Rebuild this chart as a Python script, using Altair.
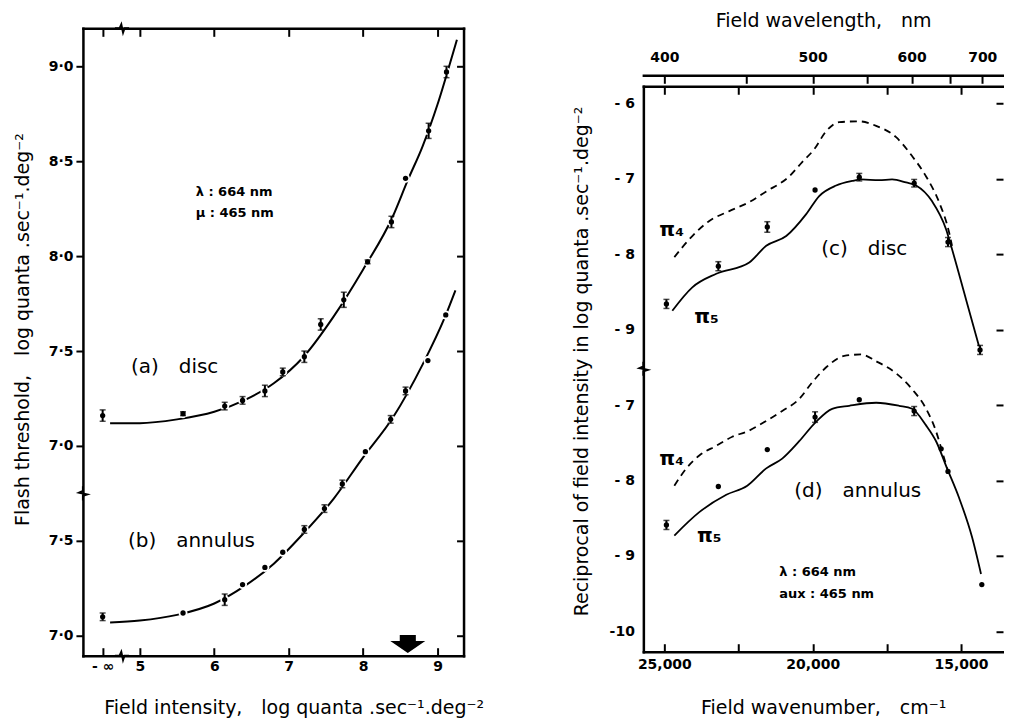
import altair as alt
import pandas as pd

FONT = "DejaVu Sans"

# ======================= LEFT PANEL (flash threshold vs field intensity) =======================
L_X_TICKS = [4.5, 5, 6, 7, 8, 9]
L_X_LABELS = ["- ∞", "5", "6", "7", "8", "9"]
L_Y_TICKS = [6.0, 6.5, 7.0, 7.5, 8.0, 8.5, 9.0]
L_Y_LABELS = ["7·0", "7·5", "7·0", "7·5", "8·0", "8·5", "9·0"]
L_ANNULUS_SHIFT = -1.0   # annulus curve drawn on the lower (broken) part of the axis

disc_x = [4.5, 5.58, 6.14, 6.38, 6.68, 6.92, 7.21, 7.43, 7.74, 8.06, 8.38, 8.57, 8.88, 9.12]
disc_y = [7.16, 7.17, 7.21, 7.24, 7.29, 7.39, 7.47, 7.64, 7.77, 7.97, 8.18, 8.41, 8.66, 8.97]
disc_err = [0.03, 0.01, 0.02, 0.02, 0.03, 0.02, 0.03, 0.03, 0.04, 0.01, 0.03, 0.0, 0.04, 0.03]

annulus_x = [4.5, 5.58, 6.14, 6.38, 6.68, 6.92, 7.21, 7.48, 7.72, 8.03, 8.37, 8.57, 8.87, 9.11]
annulus_y = [7.10, 7.12, 7.19, 7.27, 7.36, 7.44, 7.56, 7.67, 7.80, 7.97, 8.14, 8.29, 8.45, 8.69]
annulus_err = [0.02, 0.0, 0.03, 0.0, 0.0, 0.0, 0.02, 0.02, 0.02, 0.0, 0.02, 0.02, 0.0, 0.0]

disc_fit_x = [4.6, 5.0, 5.5, 6.0, 6.4, 6.8, 7.2, 7.6, 8.0, 8.4, 8.6, 8.8, 9.0, 9.2, 9.26]
disc_fit_y = [7.12, 7.12, 7.14, 7.18, 7.24, 7.33, 7.47, 7.68, 7.93, 8.21, 8.40, 8.58, 8.80, 9.06, 9.14]
annulus_fit_x = [4.6, 5.0, 5.5, 6.0, 6.4, 6.8, 7.2, 7.6, 8.0, 8.4, 8.8, 9.1, 9.24]
annulus_fit_y = [7.07, 7.08, 7.11, 7.17, 7.26, 7.38, 7.54, 7.72, 7.94, 8.15, 8.43, 8.68, 8.82]

left_note_text = ["λ : 664 nm", "μ : 465 nm"]
left_note_x = [5.75, 5.75]
left_note_y = [8.34, 8.226]
left_label_text = ["(a)\u2003disc", "(b)\u2003annulus"]
left_label_x = [4.88, 4.84]
left_label_y = [7.416, 6.50]

arrow_x = [8.6]
arrow_y = [5.958]

L_XDOM = [4.235, 9.349]
L_YDOM = [5.895, 9.2]
WL, HL = 381, 628

# ======================= RIGHT PANEL (spectral sensitivity) =======================
R_X_LABEL_TICKS = [25000, 20000, 15000]
R_X_TICKS = [25000, 22500, 20000, 17500, 15000]
WAVELENGTHS = [400, 450, 500, 550, 600, 650, 700]
R_Y_TICKS = [-6, -7, -8, -9, -10, -11, -12, -13]
R_Y_LABELS = ["- 6", "- 7", "- 8", "- 9", "- 7", "- 8", "- 9", "-10"]
R_ANNULUS_SHIFT = -3.0

c_pts_wn = [24930, 23180, 21530, 19920, 18430, 16580, 15440, 14360]
c_pts_v = [-8.66, -8.16, -7.64, -7.15, -6.98, -7.06, -7.84, -9.27]
c_pts_err = [0.06, 0.06, 0.07, 0.0, 0.05, 0.05, 0.06, 0.06]

d_pts_wn = [24930, 23180, 21530, 19920, 18430, 16580, 15670, 15440, 14300]
d_pts_v = [-8.59, -8.08, -7.59, -7.16, -6.93, -7.08, -7.58, -7.88, -9.38]
d_pts_err = [0.06, 0.0, 0.0, 0.07, 0.0, 0.06, 0.0, 0.0, 0.0]

c_pi4_wn = [24663, 24057, 23485, 22811, 22138, 21566, 20791, 20354, 19949, 19545, 19108,
            18434, 17862, 17189, 16650, 16178, 15741, 15404, 15303]
c_pi4_v = [-8.04, -7.76, -7.56, -7.43, -7.31, -7.17, -6.97, -6.78, -6.61, -6.37, -6.25,
           -6.24, -6.30, -6.45, -6.70, -6.97, -7.31, -7.71, -7.89]
c_pi5_wn = [24731, 24057, 23249, 22138, 21566, 20892, 20219, 19781, 19209, 18670, 18367,
            17761, 17323, 16852, 16515, 15976, 15505, 15337, 14832, 14394]
c_pi5_v = [-8.75, -8.44, -8.26, -8.11, -7.89, -7.76, -7.47, -7.23, -7.09, -7.03, -7.01,
           -7.02, -7.01, -7.05, -7.09, -7.30, -7.67, -7.89, -8.60, -9.22]

d_pi4_wn = [24663, 24260, 23822, 23249, 22710, 22205, 21566, 21027, 20455, 20017, 19545,
            18939, 18367, 17862, 17189, 16650, 16178, 15842, 15640, 15471]
d_pi4_v = [-8.07, -7.84, -7.67, -7.54, -7.42, -7.35, -7.21, -7.08, -6.92, -6.70, -6.50,
           -6.35, -6.33, -6.42, -6.58, -6.79, -7.05, -7.35, -7.61, -7.84]
d_pi5_wn = [24663, 23822, 22912, 22205, 21566, 21027, 20455, 19882, 19343, 18771, 17862,
            17088, 16650, 16178, 15842, 15471, 15067, 14630, 14327]
d_pi5_v = [-8.73, -8.42, -8.19, -8.07, -7.84, -7.71, -7.48, -7.22, -7.05, -7.01, -6.97,
           -7.01, -7.05, -7.27, -7.48, -7.84, -8.23, -8.75, -9.24]

right_pi_text = ["π₄", "π₅", "π₄", "π₅"]
right_pi_wn = [25168, 23990, 25168, 23900]
right_pi_v = [-7.68, -8.83, -10.71, -11.74]
right_label_text = ["(c)\u2003disc", "(d)\u2003annulus"]
right_label_wn = [19714, 20623]
right_label_v = [-7.93, -11.14]
right_note_text = ["λ : 664 nm", "aux : 465 nm"]
right_note_wn = [21128, 21128]
right_note_v = [-12.22, -12.51]

R_XDOM = [13586, 25707]
R_YDOM = [-13.27, -5.007]     # plot area reaches up to the wavelength-axis title
WR, HR = 360, 624
R_FRAME_H = 566               # frame height (bottom axis to top frame line)
R_WL_GAP = 11                 # wavelength axis sits this far above the frame

# axis-break positions (x, y in data units)
left_hbreak_x = [4.76, 4.76]
left_hbreak_y = [L_YDOM[1], L_YDOM[0]]
left_vbreak_x = [L_XDOM[0]]
left_vbreak_y = [6.75]
right_vbreak_x = [R_XDOM[1]]
right_vbreak_y = [-9.52]

H_BREAK = "M-1,0 L-0.35,0 L-0.1,-0.55 L0.15,0.6 L0.35,0 L1,0"
V_BREAK = "M0,-1 L0,-0.35 L-0.55,-0.1 L0.6,0.15 L0,0.35 L0,1"
ARROW = "M-0.46,-0.5 L0.46,-0.5 L0.46,-0.16 L1,-0.16 L0,0.53 L-1,-0.16 L-0.46,-0.16 Z"

TITLE_SIZE = 19


def lab_expr(values, labels, tol):
    parts = [f"abs(datum.value - ({v})) < {tol} ? '{t}' : " for v, t in zip(values, labels)]
    return "".join(parts) + "''"


# ---------------------------------------------------------------- left chart
xsL = alt.Scale(domain=L_XDOM, nice=False, zero=False)
ysL = alt.Scale(domain=L_YDOM, nice=False, zero=False)

lcurve = pd.concat([
    pd.DataFrame({"x": disc_fit_x, "y": disc_fit_y, "s": "disc"}),
    pd.DataFrame({"x": annulus_fit_x, "y": [v + L_ANNULUS_SHIFT for v in annulus_fit_y], "s": "annulus"}),
])
lpts = pd.concat([
    pd.DataFrame({"x": disc_x, "y": disc_y, "err": disc_err}),
    pd.DataFrame({"x": annulus_x, "y": [v + L_ANNULUS_SHIFT for v in annulus_y], "err": annulus_err}),
])
lpts["lo"] = lpts["y"] - lpts["err"]
lpts["hi"] = lpts["y"] + lpts["err"]
lbars = lpts[lpts["err"] > 0]
lcaps = pd.concat([lbars.assign(y=lbars["lo"]), lbars.assign(y=lbars["hi"])])


def lcarrier(xaxis, yaxis):
    return alt.Chart(lcurve).mark_point(opacity=0).encode(
        x=alt.X("x:Q", scale=xsL, axis=xaxis),
        y=alt.Y("y:Q", scale=ysL, axis=yaxis),
    )


AX_L_bottom = alt.Axis(orient="bottom", values=L_X_TICKS,
                       labelExpr=lab_expr(L_X_TICKS, L_X_LABELS, 0.01),
                       ticks=False, labelPadding=4,
                       title="Field intensity,\u2003log quanta .sec⁻¹.deg⁻²",
                       titlePadding=25, titleX=211)
AX_L_bottom_in = alt.Axis(orient="top", offset=-HL, values=L_X_TICKS, labels=False,
                          domain=False, tickSize=8, title=None)
AX_L_top = alt.Axis(orient="bottom", offset=-HL, values=L_X_TICKS, labels=False,
                    tickSize=8, title=None)
AX_L_left = alt.Axis(orient="left", values=L_Y_TICKS,
                     labelExpr=lab_expr(L_Y_TICKS, L_Y_LABELS, 0.01),
                     tickSize=7, labelPadding=3,
                     title="Flash threshold,\u2003log quanta .sec⁻¹.deg⁻²",
                     titlePadding=16, titleY=301)
AX_L_right = alt.Axis(orient="left", offset=-WL, values=L_Y_TICKS, labels=False,
                      tickSize=7, title=None)

l_lines = alt.Chart(lcurve).mark_line(color="black", strokeWidth=2, interpolate="monotone").encode(
    x=alt.X("x:Q", scale=xsL, axis=None), y=alt.Y("y:Q", scale=ysL, axis=None), detail="s:N")
l_halo = alt.Chart(lpts).mark_point(filled=True, color="white", opacity=1, size=80, shape="circle").encode(
    x=alt.X("x:Q", scale=xsL, axis=None), y=alt.Y("y:Q", scale=ysL, axis=None))
l_rules = alt.Chart(lbars).mark_rule(color="black", strokeWidth=2).encode(
    x=alt.X("x:Q", scale=xsL, axis=None), y=alt.Y("lo:Q", scale=ysL, axis=None), y2="hi:Q")
l_caps = alt.Chart(lcaps).mark_tick(color="black", orient="horizontal", size=6, thickness=1.5).encode(
    x=alt.X("x:Q", scale=xsL, axis=None), y=alt.Y("y:Q", scale=ysL, axis=None))
l_dots = alt.Chart(lpts).mark_point(filled=True, color="black", opacity=1, size=28, shape="circle").encode(
    x=alt.X("x:Q", scale=xsL, axis=None), y=alt.Y("y:Q", scale=ysL, axis=None))
l_notes = alt.Chart(pd.DataFrame({"x": left_note_x, "y": left_note_y, "t": left_note_text})).mark_text(
    font=FONT, fontSize=13, fontWeight="bold", align="left", baseline="middle", color="black").encode(
    x=alt.X("x:Q", scale=xsL, axis=None), y=alt.Y("y:Q", scale=ysL, axis=None), text="t:N")
l_labels = alt.Chart(pd.DataFrame({"x": left_label_x, "y": left_label_y, "t": left_label_text})).mark_text(
    font=FONT, fontSize=20, align="left", baseline="middle", color="black").encode(
    x=alt.X("x:Q", scale=xsL, axis=None), y=alt.Y("y:Q", scale=ysL, axis=None), text="t:N")
l_arrow = alt.Chart(pd.DataFrame({"x": arrow_x, "y": arrow_y})).mark_point(
    shape=ARROW, filled=True, color="black", opacity=1, size=1225).encode(
    x=alt.X("x:Q", scale=xsL, axis=None), y=alt.Y("y:Q", scale=ysL, axis=None))
l_hbreak = alt.Chart(pd.DataFrame({"x": left_hbreak_x, "y": left_hbreak_y})).mark_point(
    shape=H_BREAK, filled=False, color="black", opacity=1, strokeWidth=2, size=200).encode(
    x=alt.X("x:Q", scale=xsL, axis=None), y=alt.Y("y:Q", scale=ysL, axis=None))
l_vbreak = alt.Chart(pd.DataFrame({"x": left_vbreak_x, "y": left_vbreak_y})).mark_point(
    shape=V_BREAK, filled=False, color="black", opacity=1, strokeWidth=2, size=200).encode(
    x=alt.X("x:Q", scale=xsL, axis=None), y=alt.Y("y:Q", scale=ysL, axis=None))

left = alt.layer(
    lcarrier(AX_L_bottom, AX_L_left),
    lcarrier(AX_L_bottom_in, AX_L_right),
    lcarrier(AX_L_top, None),
    l_lines, l_halo, l_rules, l_caps, l_dots, l_notes, l_labels, l_arrow, l_hbreak, l_vbreak,
).resolve_axis(x="independent", y="independent").properties(width=WL, height=HL)

# ---------------------------------------------------------------- right chart
xsR = alt.Scale(domain=R_XDOM, nice=False, zero=False, reverse=True)
ysR = alt.Scale(domain=R_YDOM, nice=False, zero=False)

rcurve = pd.concat([
    pd.DataFrame({"x": c_pi4_wn, "y": c_pi4_v, "s": "c4", "k": "pi4"}),
    pd.DataFrame({"x": d_pi4_wn, "y": [v + R_ANNULUS_SHIFT for v in d_pi4_v], "s": "d4", "k": "pi4"}),
    pd.DataFrame({"x": c_pi5_wn, "y": c_pi5_v, "s": "c5", "k": "pi5"}),
    pd.DataFrame({"x": d_pi5_wn, "y": [v + R_ANNULUS_SHIFT for v in d_pi5_v], "s": "d5", "k": "pi5"}),
])
rpts = pd.concat([
    pd.DataFrame({"x": c_pts_wn, "y": c_pts_v, "err": c_pts_err}),
    pd.DataFrame({"x": d_pts_wn, "y": [v + R_ANNULUS_SHIFT for v in d_pts_v], "err": d_pts_err}),
])
rpts["lo"] = rpts["y"] - rpts["err"]
rpts["hi"] = rpts["y"] + rpts["err"]
rbars = rpts[rpts["err"] > 0]
rcaps = pd.concat([rbars.assign(y=rbars["lo"]), rbars.assign(y=rbars["hi"])])

WL_WN = [1e7 / w for w in WAVELENGTHS]
WL_LABELS = [str(w) if w % 100 == 0 else "" for w in WAVELENGTHS]
TOP_GAP = HR - R_FRAME_H      # px between plot top and the top frame line


def rcarrier(xaxis, yaxis):
    return alt.Chart(rcurve).mark_point(opacity=0).encode(
        x=alt.X("x:Q", scale=xsR, axis=xaxis),
        y=alt.Y("y:Q", scale=ysR, axis=yaxis),
    )


AX_R_bottom = alt.Axis(orient="bottom", values=R_X_LABEL_TICKS, format=",d", ticks=False,
                       labelPadding=6, title="Field wavenumber,\u2003cm⁻¹", titlePadding=27)
AX_R_bottom_in = alt.Axis(orient="top", offset=-HR, values=R_X_TICKS, labels=False,
                          domain=False, tickSize=8, title=None)
AX_R_top = alt.Axis(orient="bottom", offset=-R_FRAME_H, values=R_X_TICKS, labels=False,
                    tickSize=8, title=None)
AX_R_wl = alt.Axis(orient="top", offset=-(TOP_GAP - R_WL_GAP), values=WL_WN,
                   labelExpr=lab_expr(WL_WN, WL_LABELS, 0.5),
                   ticks=False, labelPadding=11, title="Field wavelength,\u2003nm",
                   titlePadding=20)
AX_R_wl_ticks = alt.Axis(orient="bottom", offset=-(R_FRAME_H + R_WL_GAP), values=WL_WN,
                         labels=False, domain=False, tickSize=8, title=None)
AX_R_left = alt.Axis(orient="left", values=R_Y_TICKS,
                     labelExpr=lab_expr(R_Y_TICKS, R_Y_LABELS, 0.01),
                     ticks=False, labelPadding=9, domainDash=[R_FRAME_H, 3000],
                     title="Reciprocal of field intensity in log quanta .sec⁻¹.deg⁻²",
                     titlePadding=18, titleY=333)
AX_R_right = alt.Axis(orient="left", offset=-WR, values=R_Y_TICKS, labels=False,
                      domain=False, tickSize=7, title=None)

r_pi5 = alt.Chart(rcurve[rcurve["k"] == "pi5"]).mark_line(
    color="black", strokeWidth=1.8, interpolate="monotone").encode(
    x=alt.X("x:Q", scale=xsR, axis=None), y=alt.Y("y:Q", scale=ysR, axis=None), detail="s:N")
r_pi4 = alt.Chart(rcurve[rcurve["k"] == "pi4"]).mark_line(
    color="black", strokeWidth=1.8, strokeDash=[7, 5], interpolate="monotone").encode(
    x=alt.X("x:Q", scale=xsR, axis=None), y=alt.Y("y:Q", scale=ysR, axis=None), detail="s:N")
r_rules = alt.Chart(rbars).mark_rule(color="black", strokeWidth=2).encode(
    x=alt.X("x:Q", scale=xsR, axis=None), y=alt.Y("lo:Q", scale=ysR, axis=None), y2="hi:Q")
r_caps = alt.Chart(rcaps).mark_tick(color="black", orient="horizontal", size=6, thickness=1.5).encode(
    x=alt.X("x:Q", scale=xsR, axis=None), y=alt.Y("y:Q", scale=ysR, axis=None))
r_dots = alt.Chart(rpts).mark_point(filled=True, color="black", opacity=1, size=28, shape="circle").encode(
    x=alt.X("x:Q", scale=xsR, axis=None), y=alt.Y("y:Q", scale=ysR, axis=None))
r_pis = alt.Chart(pd.DataFrame({"x": right_pi_wn, "y": right_pi_v, "t": right_pi_text})).mark_text(
    font=FONT, fontSize=20, fontWeight="bold", align="left", baseline="middle", color="black").encode(
    x=alt.X("x:Q", scale=xsR, axis=None), y=alt.Y("y:Q", scale=ysR, axis=None), text="t:N")
r_labels = alt.Chart(pd.DataFrame({"x": right_label_wn, "y": right_label_v, "t": right_label_text})).mark_text(
    font=FONT, fontSize=20, align="left", baseline="middle", color="black").encode(
    x=alt.X("x:Q", scale=xsR, axis=None), y=alt.Y("y:Q", scale=ysR, axis=None), text="t:N")
r_notes = alt.Chart(pd.DataFrame({"x": right_note_wn, "y": right_note_v, "t": right_note_text})).mark_text(
    font=FONT, fontSize=13, fontWeight="bold", align="left", baseline="middle", color="black").encode(
    x=alt.X("x:Q", scale=xsR, axis=None), y=alt.Y("y:Q", scale=ysR, axis=None), text="t:N")
r_vbreak = alt.Chart(pd.DataFrame({"x": right_vbreak_x, "y": right_vbreak_y})).mark_point(
    shape=V_BREAK, filled=False, color="black", opacity=1, strokeWidth=2, size=200).encode(
    x=alt.X("x:Q", scale=xsR, axis=None), y=alt.Y("y:Q", scale=ysR, axis=None))

right = alt.layer(
    rcarrier(AX_R_bottom, AX_R_left),
    rcarrier(AX_R_bottom_in, AX_R_right),
    rcarrier(AX_R_top, None),
    rcarrier(AX_R_wl, None),
    rcarrier(AX_R_wl_ticks, None),
    r_pi4, r_pi5, r_rules, r_caps, r_dots, r_pis, r_labels, r_notes, r_vbreak,
).resolve_axis(x="independent", y="independent").properties(width=WR, height=HR)

chart = alt.hconcat(left, right, spacing=87).properties(
    padding={"left": 5, "top": 3, "right": 0, "bottom": 0}
).configure_view(stroke=None).configure_axis(
    grid=False, domainColor="black", domainWidth=2.5, domainCap="square",
    tickColor="black", tickWidth=2, labelFont=FONT, labelFontWeight="bold",
    labelFontSize=14, labelColor="black", labelFlush=False, labelOverlap=False,
    titleFont=FONT, titleFontWeight="normal", titleFontSize=TITLE_SIZE, titleColor="black",
)

chart.save("out.html", embed_options={"renderer": "svg", "actions": False})
